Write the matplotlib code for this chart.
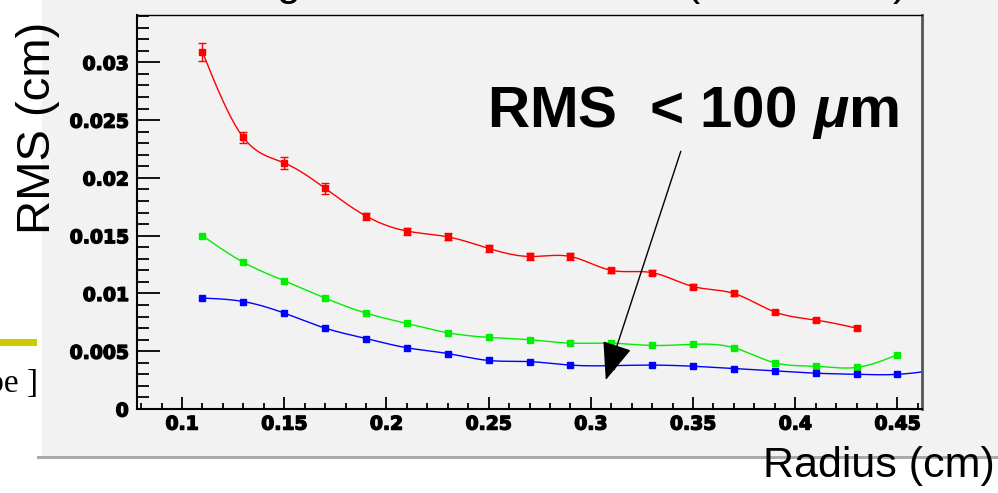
import numpy as np
import matplotlib
matplotlib.use("Agg")
import matplotlib.pyplot as plt
import matplotlib.patheffects as pe
from matplotlib.patches import Rectangle
from matplotlib.ticker import FixedLocator, MultipleLocator

plt.rcParams['font.family'] = ['Liberation Sans', 'DejaVu Sans']
plt.rcParams['mathtext.fontset'] = 'custom'
plt.rcParams['mathtext.it'] = 'Liberation Sans:italic:bold'
plt.rcParams['mathtext.rm'] = 'Liberation Sans:bold'

# data
x_red = [0.11, 0.13, 0.15, 0.17, 0.19, 0.21, 0.23, 0.25, 0.27, 0.29,
         0.31, 0.33, 0.35, 0.37, 0.39, 0.41, 0.43]
rms_red = [0.0309, 0.0235, 0.0213, 0.0191, 0.0167, 0.0154, 0.0149, 0.0139, 0.0132, 0.0132,
           0.0120, 0.0118, 0.0106, 0.0100, 0.0084, 0.0077, 0.0070]
err_red = [0.0008, 0.0005, 0.0005, 0.0005, 0.0003, 0.0003, 0.0003, 0.0003, 0.0003, 0.0003,
           0.0002, 0.0002, 0.0002, 0.0002, 0.0002, 0.0002, 0.0002]

x_green = [0.11, 0.13, 0.15, 0.17, 0.19, 0.21, 0.23, 0.25, 0.27, 0.29,
           0.31, 0.33, 0.35, 0.37, 0.39, 0.41, 0.43, 0.45]
rms_green = [0.0150, 0.0127, 0.0111, 0.0096, 0.0083, 0.0074, 0.0066, 0.0062, 0.0060, 0.0057,
             0.0057, 0.0055, 0.0056, 0.0053, 0.0040, 0.0037, 0.0036, 0.0047]

x_blue = [0.11, 0.13, 0.15, 0.17, 0.19, 0.21, 0.23, 0.25, 0.27, 0.29,
          0.31, 0.33, 0.35, 0.37, 0.39, 0.41, 0.43, 0.45, 0.47]
rms_blue = [0.0096, 0.0093, 0.0083, 0.0070, 0.0061, 0.0053, 0.0048, 0.0042, 0.0041, 0.0038,
            0.00375, 0.0038, 0.0037, 0.0035, 0.0033, 0.0031, 0.0030, 0.0030, 0.0034]

xticks = [0.1, 0.15, 0.2, 0.25, 0.3, 0.35, 0.4, 0.45]
xtick_labels = ['0.1', '0.15', '0.2', '0.25', '0.3', '0.35', '0.4', '0.45']
yticks = [0, 0.005, 0.01, 0.015, 0.02, 0.025, 0.03]
ytick_labels = ['0', '0.005', '0.01', '0.015', '0.02', '0.025', '0.03']


def spline(x, y, xs):
    # natural cubic spline, like ROOT's "C" draw option
    x = np.asarray(x); y = np.asarray(y)
    n = len(x)
    h = np.diff(x)
    A = np.zeros((n, n)); r = np.zeros(n)
    A[0, 0] = A[-1, -1] = 1
    for i in range(1, n - 1):
        A[i, i - 1] = h[i - 1]
        A[i, i] = 2 * (h[i - 1] + h[i])
        A[i, i + 1] = h[i]
        r[i] = 3 * ((y[i + 1] - y[i]) / h[i] - (y[i] - y[i - 1]) / h[i - 1])
    c = np.linalg.solve(A, r)
    b = (y[1:] - y[:-1]) / h - h * (2 * c[:-1] + c[1:]) / 3
    d = (c[1:] - c[:-1]) / (3 * h)
    idx = np.clip(np.searchsorted(x, xs) - 1, 0, n - 2)
    dx = xs - x[idx]
    return y[idx] + b[idx] * dx + c[idx] * dx ** 2 + d[idx] * dx ** 3


fig = plt.figure(figsize=(9.98, 4.93), dpi=100, facecolor='white')
W, H = 998, 493

# slide pad background + shadow
fig.patches.append(Rectangle((37 / W, (H - 459) / H), 1, 3 / H, transform=fig.transFigure,
                             facecolor='#aaaaaa', edgecolor='none', zorder=-3))
fig.patches.append(Rectangle((42 / W, (H - 456) / H), 1, 1, transform=fig.transFigure,
                             facecolor='#f2f2f2', edgecolor='none', zorder=-2))
# leftover bits of the slide
fig.patches.append(Rectangle((0, (H - 346) / H), 37 / W, 7 / H, transform=fig.transFigure,
                             facecolor='#cccc00', edgecolor='none', zorder=-1))
fig.text(38 / W, 1 - 392 / H, 'type ]', family='Liberation Serif', fontsize=24,
         ha='right', va='baseline')

# title, mostly cut off by the top edge
for ch, px in [('g', 288), ('(', 693), (')', 900)]:
    fig.text(px / W, 1 + 5 / H, ch, fontsize=31, ha='center', va='baseline')

ax = fig.add_axes([137 / W, 1 - 409 / H, (922 - 137) / W, (409 - 15) / H])
ax.set_facecolor('#f2f2f2')
ax.set_xlim(0.078, 0.462)
ax.set_ylim(0, 0.0341)

for xs_, ys_, col in [(x_red, rms_red, 'red'), (x_green, rms_green, '#00ee00'),
                      (x_blue, rms_blue, 'blue')]:
    xx = np.linspace(xs_[0], xs_[-1], 500)
    ax.plot(xx, spline(xs_, ys_, xx), color=col, lw=1)
ax.plot(x_green, rms_green, 's', color='#00ee00', ms=5)
ax.plot(x_blue, rms_blue, 's', color='blue', ms=5)
ax.errorbar(x_red, rms_red, yerr=err_red, fmt='s', color='red', ms=4,
            capsize=3, elinewidth=1, capthick=1)

ax.text(0.249, 0.02443, r'RMS  < 100 $\mu$m', fontsize=42, fontweight='bold',
        ha='left', va='baseline')
ax.annotate('', xy=(0.3073, 0.00251), xytext=(0.344, 0.0223),
            arrowprops=dict(arrowstyle='-|>,head_length=2.4,head_width=0.95',
                            mutation_scale=10, lw=1, color='black',
                            shrinkA=0, shrinkB=0))

ax.xaxis.set_major_locator(FixedLocator(xticks))
ax.set_xticklabels(xtick_labels)
ax.xaxis.set_minor_locator(MultipleLocator(0.01))
ax.yaxis.set_major_locator(FixedLocator(yticks))
ax.set_yticklabels(ytick_labels)
ax.yaxis.set_minor_locator(MultipleLocator(0.001))

ax.tick_params(axis='both', which='both', direction='in', width=1.3, color='black')
ax.tick_params(axis='x', which='major', length=8.6, pad=4)
ax.tick_params(axis='x', which='minor', length=4.3)
ax.tick_params(axis='y', which='major', length=16.6, pad=6)
ax.tick_params(axis='y', which='minor', length=8.6)
for lab in ax.get_xticklabels() + ax.get_yticklabels():
    lab.set_fontfamily('DejaVu Sans')
    lab.set_fontweight('bold')
    lab.set_fontsize(13.5)
    lab.set_path_effects([pe.withStroke(linewidth=1.0, foreground='black')])

ax.spines['left'].set_linewidth(1.5)
ax.spines['bottom'].set_linewidth(1.5)
ax.spines['top'].set_linewidth(1)
ax.spines['right'].set_linewidth(2)
ax.spines['right'].set_color('#555555')

ax.set_ylabel('RMS (cm)', fontsize=34, ha='center', va='center')
ax.yaxis.set_label_coords(-0.126, 0.713)
ax.set_xlabel('Radius (cm)', fontsize=31, ha='right', va='baseline')
ax.xaxis.set_label_coords(1.093, -0.173)

fig.savefig('out.png', dpi=100, facecolor=fig.get_facecolor())
